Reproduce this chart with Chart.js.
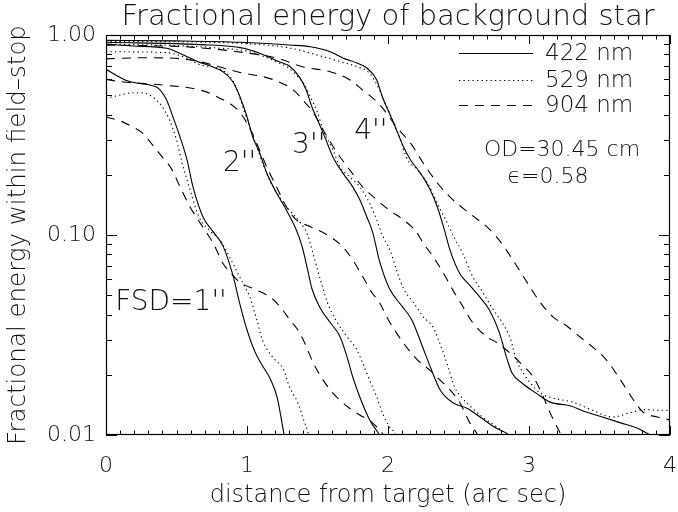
<!DOCTYPE html>
<html>
<head>
<meta charset="utf-8">
<script src="https://cdn.jsdelivr.net/npm/chart.js@4.4.1/dist/chart.umd.min.js"></script>
<style>
  html, body { margin: 0; padding: 0; background: #ffffff; }
  #wrap { width: 678px; height: 512px; }
</style>
</head>
<body>
<div id="wrap"><canvas id="chart" width="678" height="512"></canvas></div>
<script>
// Fractional energy within the field stop versus distance from the target,
// for field-stop diameters of 1, 2, 3 and 4 arcsec at three wavelengths.
// Each curve is a list of [distance (arcsec), fractional energy] pairs.

const fsd1_422 = [[0,0.674],[0.135,0.596],[0.25,0.570],[0.31,0.562],[0.37,0.543],[0.43,0.473],[0.475,0.389],[0.525,0.309],[0.575,0.237],[0.617,0.174],[0.688,0.123],[0.759,0.104],[0.83,0.088],[0.9,0.063],[0.95,0.045],[1.0,0.0335],[1.057,0.026],[1.113,0.022],[1.163,0.0192],[1.213,0.0155],[1.255,0.0108],[1.275,0.009]];
const fsd1_529 = [[0,0.482],[0.1,0.501],[0.19,0.514],[0.26,0.513],[0.33,0.490],[0.40,0.437],[0.45,0.376],[0.50,0.299],[0.54,0.229],[0.59,0.174],[0.66,0.123],[0.73,0.106],[0.81,0.094],[0.9,0.072],[0.97,0.0575],[1.02,0.049],[1.07,0.0375],[1.11,0.0298],[1.18,0.0246],[1.26,0.0212],[1.30,0.0175],[1.36,0.0145],[1.40,0.012],[1.43,0.0104],[1.45,0.009]];
const fsd1_904 = [[0,0.389],[0.1,0.372],[0.19,0.347],[0.26,0.323],[0.33,0.282],[0.4,0.245],[0.47,0.211],[0.525,0.174],[0.596,0.138],[0.667,0.115],[0.716,0.102],[0.76,0.091],[0.83,0.072],[0.88,0.065],[0.95,0.058],[1.07,0.053],[1.18,0.048],[1.255,0.042],[1.305,0.0375],[1.355,0.0340],[1.40,0.0298],[1.47,0.0229],[1.54,0.0188],[1.61,0.0162],[1.71,0.0139],[1.80,0.0126],[1.89,0.0115],[1.96,0.0102],[2.0,0.0093]];

const fsd2_422 = [[0,0.900],[0.19,0.881],[0.43,0.858],[0.55,0.794],[0.65,0.736],[0.74,0.700],[0.83,0.655],[0.90,0.584],[0.95,0.491],[1.0,0.390],[1.04,0.310],[1.09,0.257],[1.14,0.204],[1.21,0.162],[1.28,0.133],[1.35,0.106],[1.39,0.088],[1.43,0.067],[1.46,0.054],[1.52,0.043],[1.59,0.0365],[1.66,0.031],[1.71,0.0245],[1.75,0.0195],[1.80,0.0155],[1.87,0.0119],[1.92,0.0105],[1.97,0.0093]];
const fsd2_529 = [[0,0.825],[0.43,0.816],[0.57,0.767],[0.67,0.708],[0.79,0.684],[0.88,0.617],[0.93,0.531],[0.97,0.437],[1.02,0.347],[1.07,0.276],[1.11,0.229],[1.16,0.188],[1.23,0.155],[1.30,0.133],[1.38,0.115],[1.43,0.100],[1.47,0.080],[1.52,0.060],[1.57,0.046],[1.64,0.0365],[1.71,0.031],[1.78,0.0266],[1.82,0.0229],[1.87,0.0188],[1.92,0.0155],[1.96,0.0129],[2.01,0.011],[2.05,0.0102],[2.07,0.0093]];
const fsd2_904 = [[0,0.600],[0.1,0.585],[0.43,0.560],[0.67,0.530],[0.79,0.490],[0.95,0.410],[1.04,0.320],[1.11,0.245],[1.16,0.204],[1.21,0.174],[1.28,0.138],[1.35,0.119],[1.45,0.110],[1.57,0.100],[1.68,0.087],[1.75,0.075],[1.82,0.062],[1.89,0.051],[1.94,0.046],[1.99,0.039],[2.06,0.0324],[2.13,0.0276],[2.21,0.0237],[2.30,0.021],[2.37,0.0188],[2.44,0.0168],[2.51,0.0145],[2.58,0.0115],[2.63,0.0102],[2.66,0.0093]];

const fsd3_422 = [[0,0.920],[0.67,0.895],[0.97,0.860],[1.09,0.810],[1.23,0.735],[1.30,0.700],[1.37,0.619],[1.42,0.531],[1.46,0.438],[1.51,0.363],[1.56,0.299],[1.61,0.245],[1.68,0.204],[1.75,0.174],[1.80,0.150],[1.85,0.123],[1.89,0.104],[1.94,0.074],[2.01,0.054],[2.10,0.044],[2.17,0.0375],[2.24,0.0282],[2.30,0.0219],[2.37,0.0168],[2.46,0.0145],[2.56,0.0136],[2.66,0.0122],[2.76,0.0109],[2.84,0.0102],[2.90,0.0095]];
const fsd3_529 = [[0,0.900],[0.5,0.885],[0.8,0.860],[1.0,0.830],[1.1,0.790],[1.2,0.740],[1.3,0.680],[1.36,0.620],[1.40,0.575],[1.45,0.490],[1.50,0.410],[1.54,0.335],[1.61,0.266],[1.66,0.219],[1.73,0.195],[1.80,0.174],[1.87,0.144],[1.92,0.119],[1.96,0.100],[2.02,0.082],[2.06,0.067],[2.11,0.054],[2.18,0.046],[2.25,0.039],[2.32,0.0345],[2.38,0.0272],[2.43,0.0215],[2.47,0.0175],[2.52,0.0155],[2.58,0.0140],[2.67,0.0123],[2.77,0.0110],[2.84,0.0101],[2.88,0.0095]];
const fsd3_904 = [[0,0.760],[0.3,0.770],[0.6,0.750],[0.95,0.650],[1.18,0.600],[1.33,0.530],[1.40,0.470],[1.47,0.410],[1.54,0.335],[1.64,0.257],[1.73,0.211],[1.82,0.174],[1.92,0.150],[2.01,0.133],[2.11,0.119],[2.20,0.104],[2.25,0.091],[2.32,0.078],[2.39,0.065],[2.46,0.053],[2.53,0.044],[2.60,0.0365],[2.70,0.031],[2.76,0.0293],[2.84,0.0266],[2.94,0.0229],[3.03,0.0195],[3.10,0.0156],[3.15,0.0129],[3.21,0.0106],[3.25,0.0094]];

const fsd4_422 = [[0,0.940],[0.5,0.935],[0.96,0.920],[1.3,0.891],[1.45,0.874],[1.59,0.825],[1.68,0.767],[1.78,0.724],[1.85,0.684],[1.92,0.596],[1.96,0.490],[2.01,0.407],[2.06,0.335],[2.11,0.276],[2.16,0.237],[2.23,0.204],[2.30,0.168],[2.35,0.138],[2.40,0.106],[2.44,0.084],[2.51,0.064],[2.58,0.056],[2.65,0.049],[2.72,0.042],[2.79,0.0325],[2.84,0.0245],[2.88,0.0204],[2.95,0.0182],[3.05,0.0162],[3.15,0.0146],[3.29,0.0140],[3.41,0.0130],[3.52,0.0123],[3.65,0.0115],[3.77,0.0108],[3.86,0.0100],[3.92,0.0095]];
const fsd4_529 = [[0,0.930],[0.5,0.925],[1.0,0.905],[1.3,0.861],[1.54,0.779],[1.66,0.736],[1.78,0.694],[1.87,0.643],[1.94,0.531],[1.99,0.438],[2.04,0.363],[2.09,0.299],[2.13,0.245],[2.21,0.211],[2.28,0.182],[2.35,0.144],[2.42,0.115],[2.46,0.100],[2.53,0.081],[2.60,0.062],[2.67,0.052],[2.74,0.043],[2.81,0.0365],[2.87,0.0300],[2.91,0.0237],[2.96,0.0204],[3.01,0.0182],[3.08,0.0162],[3.17,0.0153],[3.31,0.0146],[3.45,0.0133],[3.59,0.0123],[3.73,0.0130],[3.82,0.0134],[3.93,0.0133],[4.0,0.0133]];
const fsd4_904 = [[0,0.890],[0.6,0.870],[1.0,0.813],[1.21,0.767],[1.4,0.692],[1.59,0.655],[1.73,0.596],[1.82,0.531],[1.92,0.464],[1.99,0.407],[2.06,0.347],[2.16,0.288],[2.25,0.229],[2.35,0.182],[2.46,0.150],[2.58,0.128],[2.70,0.110],[2.79,0.094],[2.87,0.078],[2.96,0.062],[3.08,0.046],[3.17,0.039],[3.27,0.035],[3.36,0.031],[3.45,0.0276],[3.55,0.0237],[3.65,0.0188],[3.74,0.0150],[3.81,0.0130],[3.91,0.0123],[4.0,0.0119]];

// Wavelengths shown in the key, and the curve families they label.
const wavelengths = ['422 nm', '529 nm', '904 nm'];
const curvesByWavelength = [
  [fsd1_422, fsd2_422, fsd3_422, fsd4_422],
  [fsd1_529, fsd2_529, fsd3_529, fsd4_529],
  [fsd1_904, fsd2_904, fsd3_904, fsd4_904]
];

// Axis tick values and their printed labels.
const xMajorTicks = [0, 1, 2, 3, 4];
const xTickLabels = ['0', '1', '2', '3', '4'];
const yMajorTicks = [0.01, 0.1, 1];
const yTickLabels = ['0.01', '0.10', '1.00'];

// Curve annotations and telescope parameters.
const fsdLabels = [
  { text: "FSD=1''", x: 0.065, y: 0.046 },
  { text: "2''", x: 0.83, y: 0.227 },
  { text: "3''", x: 1.32, y: 0.28 },
  { text: "4''", x: 1.76, y: 0.33 }
];
const noteLines = ['OD=30.45 cm', '\u03F5=0.58'];

// Line styles per wavelength: solid, dotted, dashed.
const dashStyles = [[], [1.3, 3.2], [9, 7]];

const FONT = '"DejaVu Sans", sans-serif';
const INK = '#111111';

const datasets = [];
curvesByWavelength.forEach((curves, w) => {
  curves.forEach(c => {
    datasets.push({
      label: wavelengths[w],
      data: c.map(p => ({ x: p[0], y: p[1] })),
      borderColor: '#000000',
      borderWidth: 1.1,
      borderDash: dashStyles[w],
      pointRadius: 0,
      fill: false,
      cubicInterpolationMode: 'monotone'
    });
  });
});

function strokeLine(ctx, x1, y1, x2, y2) {
  ctx.beginPath();
  ctx.moveTo(x1, y1);
  ctx.lineTo(x2, y2);
  ctx.stroke();
}

// Box around the plot with inward ticks on all four sides.
const frameAndTicks = {
  id: 'frameAndTicks',
  afterDatasetsDraw(chart) {
    const { ctx, chartArea: a, scales: { x, y } } = chart;
    ctx.save();
    ctx.strokeStyle = '#000000';
    ctx.lineWidth = 1.2;
    ctx.setLineDash([]);
    ctx.strokeRect(a.left + 0.5, a.top + 0.5, a.right - a.left - 1, a.bottom - a.top - 1);
    ctx.lineWidth = 1;
    for (let i = 0; i <= 40; i++) {
      const px = Math.round(x.getPixelForValue(i / 10)) + 0.5;
      const len = (i % 10 === 0) ? 9 : 4.5;
      strokeLine(ctx, px, a.bottom, px, a.bottom - len);
      strokeLine(ctx, px, a.top, px, a.top + len);
    }
    for (let k = -2; k <= 0; k++) {
      for (let d = 1; d <= 9; d++) {
        const v = d * Math.pow(10, k);
        if (v > 1.0001) continue;
        const py = Math.round(y.getPixelForValue(v)) + 0.5;
        const len = (d === 1) ? 11 : 6;
        strokeLine(ctx, a.left, py, a.left + len, py);
        strokeLine(ctx, a.right, py, a.right - len, py);
      }
    }
    ctx.restore();
  }
};

// Title, key and text annotations.
const annotations = {
  id: 'annotations',
  afterDraw(chart) {
    const { ctx, chartArea: a, scales: { x, y } } = chart;
    ctx.save();
    ctx.fillStyle = INK;
    ctx.textBaseline = 'middle';

    ctx.font = '200 29px ' + FONT;
    ctx.textAlign = 'center';
    ctx.fillText('Fractional energy of background star', (a.left + a.right) / 2, 17);

    // key
    ctx.font = '200 23px ' + FONT;
    ctx.textAlign = 'left';
    const keyY = [53, 80, 105];
    wavelengths.forEach((w, i) => {
      ctx.strokeStyle = '#000000';
      ctx.lineWidth = 1.1;
      ctx.setLineDash(dashStyles[i]);
      strokeLine(ctx, 459, keyY[i] + 0.5, 533, keyY[i] + 0.5);
      ctx.setLineDash([]);
      ctx.fillText(w, 545, keyY[i] + 1);
    });

    ctx.font = '200 22px ' + FONT;
    ctx.textAlign = 'center';
    ctx.fillText(noteLines[0], 562, 150);
    ctx.fillText(noteLines[1], 548, 177);

    ctx.font = '200 28px ' + FONT;
    ctx.textAlign = 'left';
    fsdLabels.forEach(l => {
      ctx.fillText(l.text, x.getPixelForValue(l.x), y.getPixelForValue(l.y));
    });
    ctx.restore();
  }
};

new Chart(document.getElementById('chart'), {
  type: 'line',
  data: { datasets },
  options: {
    responsive: false,
    animation: false,
    devicePixelRatio: 1,
    layout: { padding: { top: 35, right: 8, left: 0, bottom: 0 } },
    plugins: { legend: { display: false }, tooltip: { enabled: false }, title: { display: false } },
    scales: {
      x: {
        type: 'linear', min: 0, max: 4,
        grid: { display: false, drawTicks: false },
        border: { display: false },
        afterBuildTicks: s => { s.ticks = xMajorTicks.map(v => ({ value: v })); },
        afterFit: s => { s.height = 77; s.paddingLeft = 0; s.paddingRight = 0; },
        ticks: {
          autoSkip: false, maxRotation: 0, padding: 18, color: INK,
          font: { family: FONT, size: 22, weight: '200' },
          callback: v => xTickLabels[xMajorTicks.indexOf(v)]
        },
        title: {
          display: true, text: 'distance from target (arc sec)', color: INK,
          font: { family: FONT, size: 24, weight: '200' },
          padding: { top: 0, bottom: 2 }
        }
      },
      y: {
        type: 'logarithmic', min: 0.01, max: 1,
        grid: { display: false, drawTicks: false },
        border: { display: false },
        afterBuildTicks: s => { s.ticks = yMajorTicks.map(v => ({ value: v })); },
        afterFit: s => { s.width = 106; s.paddingTop = 0; s.paddingBottom = 0; },
        ticks: {
          autoSkip: false, padding: 10, color: INK,
          font: { family: FONT, size: 22, weight: '200' },
          callback: v => {
            const i = yMajorTicks.findIndex(t => Math.abs(t - v) < 1e-9);
            return i >= 0 ? yTickLabels[i] : '';
          }
        },
        title: {
          display: true, text: 'Fractional energy within field\u2013stop', color: INK,
          font: { family: FONT, size: 24.5, weight: '200' },
          padding: { top: 4, bottom: 0 }
        }
      }
    }
  },
  plugins: [frameAndTicks, annotations]
});
</script>
</body>
</html>
